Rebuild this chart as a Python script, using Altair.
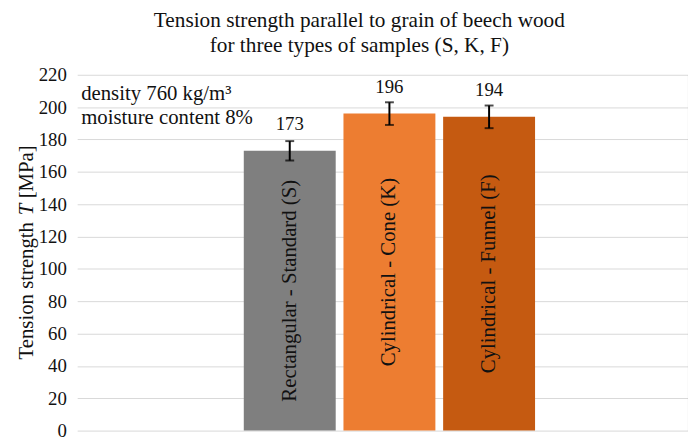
import altair as alt
import pandas as pd

categories = ["Rectangular - Standard (S)", "Cylindrical - Cone (K)", "Cylindrical - Funnel (F)"]
codes = ["S", "K", "F"]
strength = [173, 196, 194]
error = [6, 7, 7]
colors = ["#7F7F7F", "#ED7D31", "#C55A11"]
y_ticks = [0, 20, 40, 60, 80, 100, 120, 140, 160, 180, 200, 220]
title_lines = ["Tension strength parallel to grain of beech wood",
               "for three types of samples (S, K, F)"]
notes = ["density 760 kg/m³", "moisture content 8%"]
ytitle_parts = ["Tension strength", "T", "[MPa]"]

FONT = "'Liberation Serif', 'Times New Roman', 'DejaVu Serif', serif"
INK = "#111111"

df = pd.DataFrame({
    "category": categories,
    "code": codes,
    "strength": strength,
    "err": error,
    "pos": list(range(1, len(categories) + 1)),
})
df["lo"] = df["strength"] - df["err"]
df["hi"] = df["strength"] + df["err"]
df["mid"] = df["strength"] / 2

x = alt.X("pos:Q", scale=alt.Scale(domain=[-1.083, 4.946], nice=False, zero=False), axis=None)
yscale = alt.Scale(domain=[0, 220], nice=False)

base = alt.Chart(df)

bars = base.mark_bar(size=93).encode(
    x=x,
    y=alt.Y("strength:Q", scale=yscale,
            axis=alt.Axis(values=y_ticks, title=None, grid=True, domain=False, ticks=False,
                          gridColor="#d9d9d9", gridWidth=1,
                          labelFont=FONT, labelFontSize=19, labelColor=INK, labelPadding=11)),
    color=alt.Color("code:N", scale=alt.Scale(domain=codes, range=colors), legend=None),
)

err_rule = base.mark_rule(color="black", strokeWidth=2).encode(
    x=x, y=alt.Y("lo:Q", scale=yscale), y2="hi:Q")
cap_lo = base.mark_tick(color="black", orient="horizontal", size=9, thickness=2).encode(
    x=x, y=alt.Y("lo:Q", scale=yscale))
cap_hi = base.mark_tick(color="black", orient="horizontal", size=9, thickness=2).encode(
    x=x, y=alt.Y("hi:Q", scale=yscale))

value_labels = base.mark_text(font=FONT, fontSize=19, color=INK, baseline="alphabetic", dy=-21).encode(
    x=x, y=alt.Y("strength:Q", scale=yscale), text=alt.Text("strength:Q", format="d"))

cat_labels = base.mark_text(font=FONT, fontSize=21, color=INK, angle=270,
                            align="center", baseline="middle").encode(
    x=x, y=alt.Y("mid:Q", scale=yscale), text="category:N")

notes_df = pd.DataFrame({"note": notes, "row": [0, 1]})
note_marks = alt.Chart(notes_df).mark_text(font=FONT, fontSize=21, color=INK,
                                           align="left", baseline="alphabetic").encode(
    x=alt.value(4),
    y=alt.Y("row:Q", scale=alt.Scale(domain=[0, 1], range=[25, 50]), axis=None),
    text="note:N",
)

t1 = alt.Chart(pd.DataFrame({"t": [ytitle_parts[0]]})).mark_text(
    font=FONT, fontSize=21, color=INK, angle=270, align="left", baseline="alphabetic").encode(
    x=alt.value(-45), y=alt.value(288), text="t:N")
t2 = alt.Chart(pd.DataFrame({"t": [ytitle_parts[1]]})).mark_text(
    font=FONT, fontSize=21, fontStyle="italic", color=INK, angle=270, align="left",
    baseline="alphabetic").encode(
    x=alt.value(-45), y=alt.value(142), text="t:N")
t3 = alt.Chart(pd.DataFrame({"t": [ytitle_parts[2]]})).mark_text(
    font=FONT, fontSize=21, color=INK, angle=270, align="left", baseline="alphabetic").encode(
    x=alt.value(-45), y=alt.value(125), text="t:N")

chart = alt.layer(bars, err_rule, cap_lo, cap_hi, value_labels, cat_labels, note_marks, t1, t2, t3).resolve_scale(
    y="independent"
).properties(
    width=618,
    height=360,
    title=alt.TitleParams(text=title_lines, font=FONT, fontSize=21.5, fontWeight="normal",
                          color=INK, anchor="middle", frame="bounds", lineHeight=25, offset=10,
                          dx=-11),
    padding={"left": 70, "top": 65, "right": 0, "bottom": 14},
    autosize=alt.AutoSizeParams(type="none"),
).configure_view(stroke=None).configure_axis(labelFont=FONT)

chart.save("out.html", embed_options={"renderer": "svg", "actions": False})
